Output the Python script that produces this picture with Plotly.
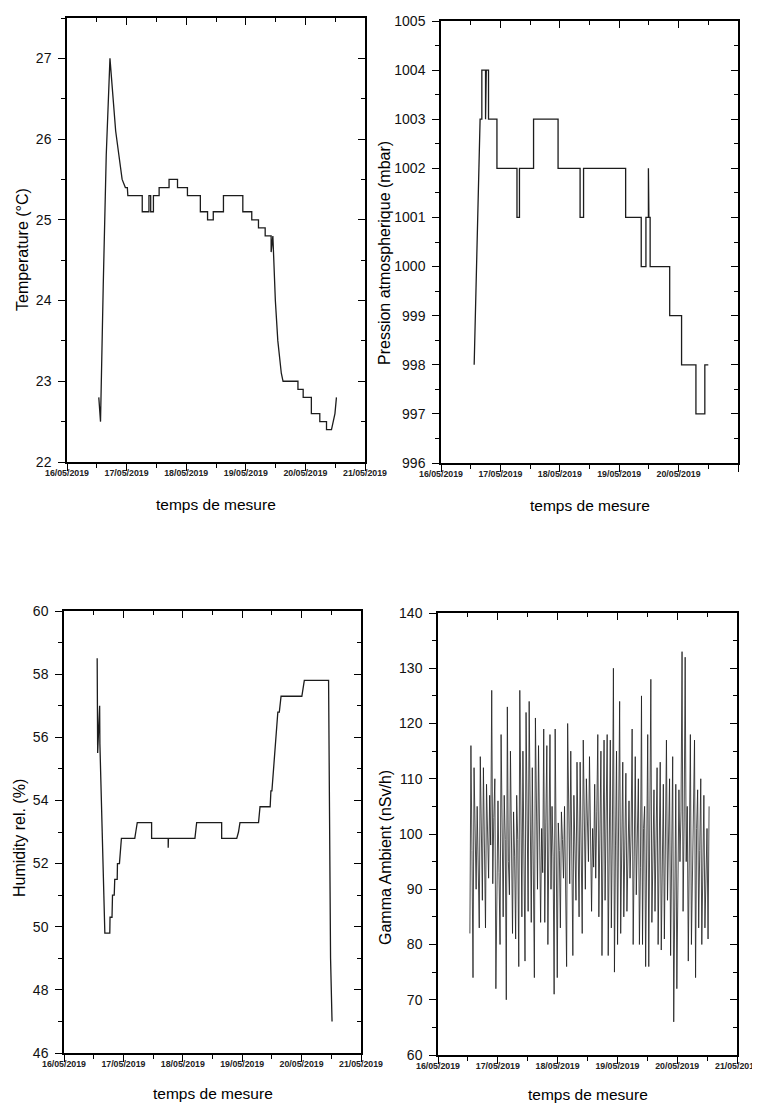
import pandas as pd
import plotly.graph_objects as go

T0 = pd.Timestamp("2019-05-16 00:00")

# Temperature (hours after 16/05/2019 00:00, °C)
temp_hours = [12.8, 13.5, 14.6, 15.8, 17.3, 18.2, 19.6, 20.9, 22.2, 23.5, 24.3, 24.5,
              30.3, 30.3, 33.0, 33.0, 33.7, 33.7, 34.8, 34.8, 37.1, 37.1, 41.1, 41.1,
              44.5, 44.5, 48.5, 48.5, 53.7, 53.7, 56.6, 56.6, 58.9, 58.9, 63.0, 63.0,
              70.8, 70.8, 74.4, 74.4, 77.1, 77.1, 79.8, 79.8, 82.2, 82.2, 82.6, 82.9,
              83.9, 84.9, 86.3, 87.0, 93.0, 93.0, 95.1, 95.1, 98.4, 98.4, 101.8, 101.8,
              104.5, 104.5, 106.5, 107.9, 108.5]
temp_values = [22.8, 22.5, 24.2, 25.8, 27.0, 26.6, 26.1, 25.8, 25.5, 25.4, 25.4, 25.3,
               25.3, 25.1, 25.1, 25.3, 25.3, 25.1, 25.1, 25.3, 25.3, 25.4, 25.4, 25.5,
               25.5, 25.4, 25.4, 25.3, 25.3, 25.1, 25.1, 25.0, 25.0, 25.1, 25.1, 25.3,
               25.3, 25.1, 25.1, 25.0, 25.0, 24.9, 24.9, 24.8, 24.8, 24.6, 24.8, 24.8,
               24.0, 23.5, 23.1, 23.0, 23.0, 22.9, 22.9, 22.8, 22.8, 22.6, 22.6, 22.5,
               22.5, 22.4, 22.4, 22.6, 22.8]

# Pressure (mbar)
pres_hours = [13.4, 15.8, 16.5, 16.5, 18.0, 18.0, 18.3, 18.3, 19.2, 19.2, 22.6, 22.6,
              30.7, 30.7, 31.7, 31.7, 37.4, 37.4, 47.3, 47.3, 56.2, 56.2, 57.6, 57.6,
              74.6, 74.6, 80.9, 80.9, 82.8, 82.8, 83.8, 83.8, 84.0, 84.5, 84.5, 92.4,
              92.4, 97.2, 97.2, 103.0, 103.0, 106.6, 106.6, 108.0]
pres_values = [998, 1003, 1003, 1004, 1004, 1003, 1003, 1004, 1004, 1003, 1003, 1002,
               1002, 1001, 1001, 1002, 1002, 1003, 1003, 1002, 1002, 1001, 1001, 1002,
               1002, 1001, 1001, 1000, 1000, 1001, 1001, 1002, 1001, 1001, 1000, 1000,
               999, 999, 998, 998, 997, 997, 998, 998]

# Relative humidity (%)
hum_hours = [13.4, 13.6, 14.4, 14.5, 16.5, 18.5, 18.6, 19.4, 19.6, 20.3, 20.5, 21.5,
             21.6, 22.4, 23.2, 28.6, 29.0, 29.6, 35.4, 35.4, 42.1, 42.1, 42.2, 52.9,
             53.2, 53.6, 63.7, 63.7, 69.8, 70.5, 71.1, 78.6, 79.2, 83.3, 83.6, 84.0,
             86.4, 87.0, 87.7, 96.1, 97.1, 106.9, 107.7, 108.3]
hum_values = [58.5, 55.5, 57.0, 55.8, 49.8, 49.8, 50.3, 50.3, 51.0, 51.0, 51.5, 51.5,
              52.0, 52.0, 52.8, 52.8, 53.0, 53.3, 53.3, 52.8, 52.8, 52.5, 52.8, 52.8,
              53.0, 53.3, 53.3, 52.8, 52.8, 53.0, 53.3, 53.3, 53.8, 53.8, 54.3, 54.3,
              56.8, 56.8, 57.3, 57.3, 57.8, 57.8, 49.0, 47.0]

# Ambient gamma dose rate (nSv/h), regular sampling from start to end
gamma_start_h = 12.8
gamma_end_h = 108.8
gamma_values = [82, 116, 97, 74, 112, 101, 90, 105, 94, 83, 114, 99, 88, 112, 96, 83, 109, 100,
                92, 107, 98, 126, 91, 103, 110, 72, 96, 106, 93, 80, 118, 97, 85, 107, 99, 70,
                123, 95, 89, 115, 101, 82, 104, 96, 81, 107, 99, 76, 126, 94, 85, 115, 100, 77,
                122, 96, 86, 124, 102, 84, 112, 95, 74, 121, 98, 90, 116, 97, 84, 101, 93, 119,
                84, 102, 116, 80, 99, 118, 90, 105, 96, 71, 119, 92, 74, 102, 97, 83, 104, 99,
                92, 105, 94, 76, 120, 101, 91, 115, 96, 78, 107, 100, 88, 113, 97, 85, 113, 101,
                82, 117, 98, 90, 110, 103, 95, 114, 99, 86, 101, 94, 109, 92, 104, 118, 85, 102,
                115, 78, 99, 117, 88, 103, 118, 78, 97, 117, 83, 100, 130, 75, 98, 115, 80, 102,
                124, 82, 99, 113, 85, 101, 111, 86, 97, 106, 92, 100, 119, 80, 96, 114, 89, 103,
                110, 80, 94, 125, 80, 101, 105, 76, 97, 118, 76, 99, 128, 84, 102, 108, 86, 98,
                112, 80, 101, 113, 79, 96, 109, 81, 100, 117, 88, 102, 110, 78, 97, 114, 66, 95,
                109, 72, 99, 108, 95, 104, 133, 86, 102, 132, 95, 105, 77, 99, 118, 80, 96, 104,
                117, 74, 101, 108, 83, 97, 110, 80, 99, 107, 83, 95, 101, 81, 105]

y_titles = ["Temperature (°C)", "Pression atmospherique (mbar)",
            "Humidity rel. (%)", "Gamma Ambient (nSv/h)"]
x_title = "temps de mesure"


def to_time(hours):
    return T0 + pd.to_timedelta(hours, unit="h")


gamma_times = pd.date_range(to_time(gamma_start_h), to_time(gamma_end_h), periods=len(gamma_values))

# page body has an 8px margin; figure is sized to fit the window exactly
OFF = 8
W, H = 760 - OFF, 1104 - OFF
# plot boxes in window pixels: (left, right, top, bottom)
boxes = [(67, 365, 18, 462), (441, 738, 21, 463), (64, 361, 611, 1053), (438, 737, 613, 1055)]
yranges = [(22, 27.5), (996, 1005), (46, 60), (60, 140)]
ydticks = [1, 1, 2, 10]
yminor = [0.5, 0.5, 1, 5]
ytitle_pos = [(22, 250), (385, 253), (19, 838), (385, 858)]
xtitle_offset = [43, 43, 40, 39]


def px(v):
    return (v - OFF) / W


def py(v):
    return 1 - (v - OFF) / H


series = [
    (to_time(temp_hours), temp_values, 1.3),
    (to_time(pres_hours), pres_values, 1.3),
    (to_time(hum_hours), hum_values, 1.3),
    (gamma_times, gamma_values, 0.8),
]

fig = go.Figure()
xr = ["2019-05-16", "2019-05-21"]
DAY = 86400000
font_main = "Liberation Sans, Arial, sans-serif"
font_dates = "Liberation Sans Narrow, Liberation Sans, Arial, sans-serif"

layout = dict(width=W, height=H, margin=dict(l=0, r=0, t=0, b=0, autoexpand=False),
              paper_bgcolor="white", plot_bgcolor="white", showlegend=False,
              font=dict(family=font_main, color="black"))
annotations = []

for i, ((x, y, lw), (l, r, t, b)) in enumerate(zip(series, boxes)):
    n = i + 1
    m = i + 5
    fig.add_trace(go.Scatter(x=x, y=y, mode="lines", xaxis=f"x{n}", yaxis=f"y{n}",
                             line=dict(color="#1c1c1c", width=lw), hoverinfo="skip"))
    fig.add_trace(go.Scatter(x=[], y=[], xaxis=f"x{m}", yaxis=f"y{m}", mode="lines"))
    xd = [max(0, px(l)), min(1, px(r))]
    yd = [max(0, py(b)), min(1, py(t))]
    layout[f"xaxis{n}"] = dict(
        domain=xd, anchor=f"y{n}", type="date", range=xr, tick0=xr[0], dtick=DAY,
        tickformat="%d/%m/%Y", showgrid=False, zeroline=False, automargin=False,
        showline=True, linecolor="black", linewidth=1.5, mirror=True,
        ticks="outside", ticklen=7, tickwidth=1.4, tickcolor="black",
        ticklabelstandoff=-5,
        tickfont=dict(family=font_dates, size=8.8, color="#222", weight="bold"),
        minor=dict(ticks="outside", dtick=DAY / 2, tick0=xr[0], ticklen=4, tickwidth=1.2,
                   tickcolor="black", showgrid=False))
    layout[f"yaxis{n}"] = dict(
        domain=yd, anchor=f"x{n}", range=list(yranges[i]), dtick=ydticks[i],
        tick0=yranges[i][0], showgrid=False, zeroline=False, automargin=False,
        showline=True, linecolor="black", linewidth=1.5, mirror=True,
        ticks="outside", ticklen=7, tickwidth=1.4, tickcolor="black",
        ticklabelstandoff=4,
        tickfont=dict(family=font_main, size=14, color="#111"),
        minor=dict(ticks="outside", dtick=yminor[i], ticklen=4, tickwidth=1.2,
                   tickcolor="black", showgrid=False))
    # inner ticks on top and right
    layout[f"xaxis{m}"] = dict(
        overlaying=f"x{n}", anchor=f"y{m}", side="top", type="date", range=xr,
        tick0=xr[0], dtick=DAY, showticklabels=False, showgrid=False, zeroline=False,
        automargin=False,
        showline=False, ticks="inside", ticklen=7, tickwidth=1.4, tickcolor="black",
        minor=dict(ticks="inside", dtick=DAY / 2, tick0=xr[0], ticklen=4, tickwidth=1.2,
                   tickcolor="black"))
    layout[f"yaxis{m}"] = dict(
        overlaying=f"y{n}", anchor=f"x{m}", side="right", range=list(yranges[i]),
        dtick=ydticks[i], tick0=yranges[i][0], showticklabels=False, showgrid=False,
        zeroline=False, automargin=False, showline=False, ticks="inside", ticklen=7,
        tickwidth=1.4, tickcolor="black",
        minor=dict(ticks="inside", dtick=yminor[i], ticklen=4, tickwidth=1.2,
                   tickcolor="black"))
    tx, ty = ytitle_pos[i]
    annotations.append(dict(text=y_titles[i], x=px(tx), y=py(ty), xref="paper",
                            yref="paper", textangle=-90, showarrow=False,
                            xanchor="center", yanchor="middle",
                            font=dict(family=font_main, size=16, color="black")))
    annotations.append(dict(text=x_title, x=px((l + r) / 2), y=py(b + xtitle_offset[i]),
                            xref="paper", yref="paper", showarrow=False,
                            xanchor="center", yanchor="middle",
                            font=dict(family=font_main, size=15.5, color="black")))

layout["annotations"] = annotations
fig.update_layout(**layout)
fig.write_html("out.html")
